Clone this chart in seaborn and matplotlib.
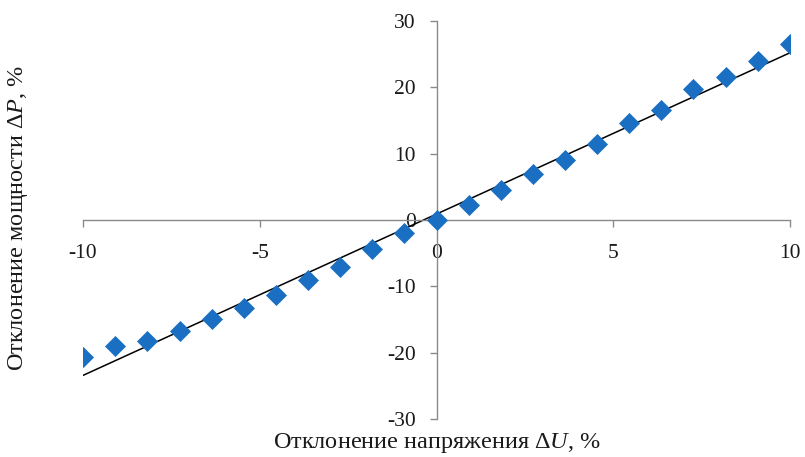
import numpy as np
import pandas as pd
import seaborn as sns
import matplotlib
matplotlib.use("Agg")
import matplotlib.pyplot as plt

# Data
dU = [-10.0, -9.09, -8.18, -7.27, -6.36, -5.45, -4.55, -3.64, -2.73, -1.82, -0.91,
      0.0, 0.91, 1.82, 2.73, 3.64, 4.55, 5.45, 6.36, 7.27, 8.18, 9.09, 10.0]
dP = [-20.7, -19.0, -18.3, -16.7, -14.9, -13.2, -11.3, -9.1, -7.1, -4.4, -2.0,
      0.0, 2.3, 4.5, 7.0, 9.0, 11.5, 14.6, 16.6, 19.75, 21.5, 23.9, 26.6]
x_ticks = [-10, -5, 0, 5, 10]
y_ticks = [-30, -20, -10, 0, 10, 20, 30]
x_label = "Отклонение напряжения Δ$U$, %"
y_label = "Отклонение мощности Δ$P$, %"

sns.set_style("white")
plt.rcParams['font.family'] = ['Liberation Serif', 'DejaVu Serif']
plt.rcParams['mathtext.fontset'] = 'custom'
plt.rcParams['mathtext.rm'] = 'Liberation Serif'
plt.rcParams['mathtext.it'] = 'Liberation Serif:italic'

df = pd.DataFrame({"dU": dU, "dP": dP})

fig = plt.figure(figsize=(8.05, 4.57), dpi=100)
ax = fig.add_axes([83/805, 1-419/457, (790-83)/805, (419-21)/457])

# linear trend line
coef = np.polyfit(df["dU"], df["dP"], 1)
xl = np.array([min(dU), max(dU)])
sns.lineplot(x=xl, y=np.polyval(coef, xl), ax=ax, color="black", lw=1.1, zorder=2)

sns.scatterplot(data=df, x="dU", y="dP", ax=ax, marker="D", s=115,
                color="#1a6fc2", edgecolor="#1a6fc2", linewidth=0, zorder=3)

ax.set_xlim(-10, 10)
ax.set_ylim(-30, 30)
ax.set_xticks(x_ticks)
ax.set_yticks(y_ticks)
ax.set_xticklabels([str(t) for t in x_ticks])
ax.set_yticklabels([str(t) for t in y_ticks])

gray = "#8a8a8a"
for s in ["top", "right"]:
    ax.spines[s].set_visible(False)
ax.spines["left"].set_position(("data", 0))
ax.spines["bottom"].set_position(("data", 0))
for s in ["left", "bottom"]:
    ax.spines[s].set_color(gray)
    ax.spines[s].set_linewidth(1.0)

ax.tick_params(axis="x", bottom=True, direction="out", length=5, width=1.0, color=gray,
               labelsize=15.5, pad=12, labelcolor="#1a1a1a")
ax.tick_params(axis="y", left=True, direction="out", length=5, width=1.0, color=gray,
               labelsize=15.5, pad=10, labelcolor="#1a1a1a")

ax.set_xlabel(x_label, fontsize=17.5, color="#1a1a1a")
ax.set_ylabel(y_label, fontsize=17.5, color="#1a1a1a")
ax.xaxis.set_label_coords(0.5, -0.06, transform=ax.transAxes)
ax.yaxis.set_label_coords(-0.092, 0.505, transform=ax.transAxes)
ax.xaxis.label.set_verticalalignment("center")
ax.yaxis.label.set_verticalalignment("center")

fig.savefig("out.png", dpi=100)
